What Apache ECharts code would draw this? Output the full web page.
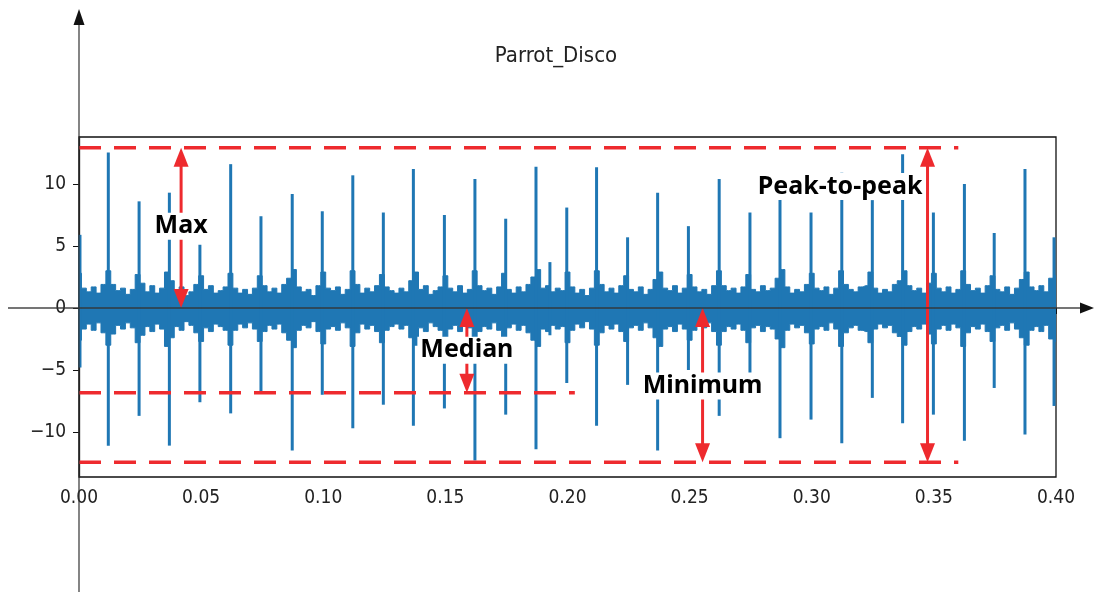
<!DOCTYPE html>
<html><head><meta charset="utf-8">
<script src="https://cdn.jsdelivr.net/npm/echarts@6/dist/echarts.min.js"></script>
<style>html,body{margin:0;padding:0;background:#fff}#c{width:1096px;height:593px}</style>
</head><body><div id="c"></div>
<script>
// ---------- data ----------
const chartTitle = 'Parrot_Disco';
const xTickValues = [0, 0.05, 0.10, 0.15, 0.20, 0.25, 0.30, 0.35, 0.40];
const yTickValues = [-10, -5, 0, 5, 10];

// noise band envelope, one value every 2 ms (upper / lower edge)
const noiseStep = 0.002;
const noiseHi = [
 2.8,1.6,1.3,1.7,1.2,1.9,3.0,1.9,1.4,1.6,
 1.1,1.5,2.7,2.0,1.3,1.8,1.2,1.6,2.9,2.2,
 1.4,1.7,1.0,1.3,1.9,2.6,1.5,1.8,1.2,1.4,
 1.7,2.8,1.6,1.2,1.5,1.1,1.6,2.6,1.8,1.3,
 1.6,1.2,1.9,2.4,3.1,1.7,1.3,1.5,1.0,1.8,
 2.9,1.6,1.4,1.7,1.1,1.5,3.0,1.9,1.2,1.6,
 1.3,1.8,2.7,1.7,1.4,1.2,1.6,1.3,2.2,2.9,
 1.5,1.8,1.1,1.4,1.7,2.6,1.6,1.3,1.8,1.2,
 1.5,3.0,1.8,1.4,1.6,1.1,1.7,2.8,1.5,1.2,
 1.7,1.3,1.9,2.5,3.1,1.6,1.8,1.3,1.6,1.4,
 2.9,1.7,1.2,1.5,1.0,1.6,3.0,1.9,1.3,1.6,
 1.2,1.8,2.6,1.5,1.3,1.7,1.1,1.5,2.3,2.9,
 1.6,1.4,1.8,1.2,1.6,2.7,1.7,1.3,1.5,1.1,
 1.8,3.0,1.8,1.4,1.6,1.2,1.7,2.7,1.5,1.3,
 1.8,1.4,1.6,2.4,3.1,1.7,1.2,1.5,1.3,1.9,
 2.8,1.6,1.4,1.7,1.1,1.6,3.0,1.9,1.5,1.3,
 1.7,1.8,2.9,1.6,1.2,1.5,1.3,1.9,2.2,3.0,
 1.8,1.4,1.6,1.2,2.0,2.8,1.6,1.3,1.7,1.2,
 1.5,3.0,1.9,1.4,1.6,1.2,1.8,2.6,1.5,1.3,
 1.7,1.1,1.6,2.3,2.9,1.7,1.4,1.8,1.3,2.4,
 2.6
];
const noiseLo = [
 -2.6,-1.7,-1.3,-1.8,-1.2,-2.0,-3.0,-2.1,-1.4,-1.7,
 -1.2,-1.6,-2.8,-2.2,-1.5,-1.9,-1.3,-1.7,-3.1,-2.4,
 -1.5,-1.8,-1.1,-1.4,-2.0,-2.7,-1.6,-1.9,-1.3,-1.5,
 -1.8,-3.0,-1.8,-1.3,-1.6,-1.2,-1.7,-2.7,-1.9,-1.4,
 -1.7,-1.3,-2.0,-2.6,-3.2,-1.8,-1.4,-1.6,-1.1,-1.9,
 -2.9,-1.7,-1.5,-1.8,-1.2,-1.6,-3.1,-2.0,-1.3,-1.7,
 -1.4,-1.9,-2.8,-1.8,-1.5,-1.3,-1.7,-1.4,-2.4,-3.0,
 -1.6,-1.9,-1.2,-1.5,-1.8,-2.7,-1.7,-1.4,-1.9,-1.3,
 -1.6,-3.2,-1.9,-1.5,-1.7,-1.2,-1.8,-2.9,-1.6,-1.3,
 -1.8,-1.4,-2.0,-2.6,-3.1,-1.7,-1.9,-1.4,-1.7,-1.5,
 -2.8,-1.8,-1.3,-1.6,-1.1,-1.7,-3.0,-2.0,-1.4,-1.7,
 -1.3,-1.9,-2.7,-1.6,-1.4,-1.8,-1.2,-1.6,-2.4,-3.1,
 -1.7,-1.5,-1.9,-1.3,-1.7,-2.6,-1.8,-1.4,-1.6,-1.2,
 -1.9,-3.0,-1.9,-1.5,-1.7,-1.3,-1.8,-2.8,-1.6,-1.4,
 -1.9,-1.5,-1.7,-2.5,-3.2,-1.8,-1.3,-1.6,-1.4,-2.0,
 -2.9,-1.7,-1.5,-1.8,-1.2,-1.7,-3.1,-2.0,-1.6,-1.4,
 -1.8,-1.9,-2.8,-1.7,-1.3,-1.6,-1.4,-2.0,-2.3,-3.0,
 -1.9,-1.5,-1.7,-1.3,-2.1,-2.9,-1.7,-1.4,-1.8,-1.3,
 -1.6,-3.1,-2.0,-1.5,-1.7,-1.3,-1.9,-2.7,-1.6,-1.4,
 -1.8,-1.2,-1.7,-2.4,-3.0,-1.8,-1.5,-1.9,-1.4,-2.5,
 -2.7
];

// periodic spikes: time (s), positive peak, negative peak
const spikeT  = [0.0004,0.0120,0.0246,0.0370,0.0495,0.0621,0.0745,0.0873,0.0996,0.1121,0.1246,0.1369,0.1496,0.1621,0.1747,0.1871,0.1928,0.1997,0.2119,0.2246,0.2369,0.2495,0.2621,0.2747,0.2870,0.2997,0.3123,0.3248,0.3372,0.3498,0.3625,0.3747,0.3873,0.3992];
const spikeHi = [5.9,12.55,8.6,9.3,5.1,11.6,7.4,9.2,7.8,10.7,7.7,11.2,7.5,10.4,7.2,11.4,3.7,8.1,11.35,5.7,9.3,6.6,10.4,7.7,9.1,7.7,10.9,8.7,12.4,7.7,10.0,6.05,11.2,5.7];
const spikeLo = [-4.8,-11.1,-8.7,-11.1,-7.6,-8.5,-6.8,-11.5,-7.0,-9.7,-7.8,-9.5,-8.1,-12.3,-8.6,-11.4,-2.2,-6.05,-9.5,-6.2,-11.5,-5.0,-8.7,-5.8,-10.5,-9.0,-10.9,-7.25,-9.3,-8.6,-10.7,-6.45,-10.2,-7.9];

// annotation levels (dashed lines)
const levelValues = [12.93, -6.83, -12.45];
const levelEnds   = [0.36, 0.203, 0.36];
// double-headed arrows: x, from, to
const arrowT    = [0.0418, 0.1588, 0.2553, 0.3474];
const arrowFrom = [0, 0, 0, -12.45];
const arrowTo   = [12.93, -6.83, -12.45, 12.93];
// annotation texts
const labelTexts = ['Max', 'Median', 'Minimum', 'Peak-to-peak'];
const labelT     = [0.0418, 0.1588, 0.2553, 0.3116];
const labelY     = [6.6, -3.4, -6.3, 9.8];

// ---------- chart ----------
const BLUE = '#1f77b4', RED = '#ee2a2e';
const AXFONT = "'DejaVu Sans Condensed', 'DejaVu Sans', sans-serif";
const chart = echarts.init(document.getElementById('c'), null, {renderer: 'canvas'});

const hiData = noiseHi.map((v, i) => [i * noiseStep, v]);
const loData = noiseLo.map((v, i) => [i * noiseStep, v]);
const spikeData = spikeT.map((t, i) => [t, spikeHi[i], spikeLo[i]]);
const levelData = levelValues.map((v, i) => [0, v, levelEnds[i]]);
const arrowData = arrowT.map((t, i) => [t, arrowFrom[i], arrowTo[i]]);
const labelData = labelTexts.map((s, i) => [labelT[i], labelY[i], s]);

function renderArrow(params, api) {
  const a = api.coord([api.value(0), api.value(1)]);
  const b = api.coord([api.value(0), api.value(2)]);
  const dx = b[0] - a[0], dy = b[1] - a[1];
  const len = Math.hypot(dx, dy) || 1;
  const ux = dx / len, uy = dy / len;
  const hl = 19, hw = 7.5;
  const head = (tip, vx, vy) => ({
    type: 'polygon',
    shape: {points: [
      [tip[0], tip[1]],
      [tip[0] - vx * hl - vy * hw, tip[1] - vy * hl + vx * hw],
      [tip[0] - vx * hl + vy * hw, tip[1] - vy * hl - vx * hw]
    ]},
    style: {fill: RED}
  });
  return {type: 'group', children: [
    {type: 'line', shape: {x1: a[0] + ux * (hl - 2), y1: a[1] + uy * (hl - 2), x2: b[0] - ux * (hl - 2), y2: b[1] - uy * (hl - 2)},
     style: {stroke: RED, lineWidth: 3}},
    head(b, ux, uy), head(a, -ux, -uy)
  ]};
}

chart.setOption({
  animation: false,
  backgroundColor: '#fff',
  title: {
    text: chartTitle, left: 551, top: 40, textAlign: 'center',
    textStyle: {fontFamily: AXFONT, fontSize: 22, fontWeight: 'normal', color: '#222'}
  },
  grid: {left: 79, right: 40, top: 137, bottom: 116, show: true, borderColor: '#111', borderWidth: 1.3, backgroundColor: '#fff'},
  xAxis: {
    type: 'value', min: 0, max: 0.4, interval: 0.05,
    axisLine: {show: true, lineStyle: {color: '#111', width: 1.3}},
    axisTick: {show: true, length: 6, lineStyle: {color: '#111'}},
    splitLine: {show: false},
    axisLabel: {fontFamily: AXFONT, fontSize: 19, color: '#222', margin: 12,
      customValues: xTickValues, formatter: v => v.toFixed(2)}
  },
  yAxis: {
    type: 'value', min: -13.63, max: 13.79,
    axisLine: {show: true, lineStyle: {color: '#111', width: 1.3}},
    axisTick: {show: true, length: 6, lineStyle: {color: '#111'}, customValues: yTickValues},
    splitLine: {show: false},
    axisLabel: {fontFamily: AXFONT, fontSize: 19, color: '#222', margin: 13,
      customValues: yTickValues, formatter: v => (v < 0 ? '\u2212' + Math.abs(v) : String(v))}
  },
  series: [
    {type: 'line', data: hiData, step: 'middle', symbol: 'none', z: 2,
     lineStyle: {color: BLUE, width: 1}, areaStyle: {color: BLUE, opacity: 1}, silent: true},
    {type: 'line', data: loData, step: 'middle', symbol: 'none', z: 2,
     lineStyle: {color: BLUE, width: 1}, areaStyle: {color: BLUE, opacity: 1}, silent: true},
    {type: 'custom', data: spikeData, z: 3, silent: true, encode: {x: 0, y: [1, 2]},
     renderItem: (params, api) => {
       const p1 = api.coord([api.value(0), api.value(1)]);
       const p2 = api.coord([api.value(0), api.value(2)]);
       return {type: 'line', shape: {x1: p1[0], y1: p1[1], x2: p2[0], y2: p2[1]},
               style: {stroke: BLUE, lineWidth: 3}};
     }},
    {type: 'custom', data: levelData, z: 4, silent: true, encode: {x: [0, 2], y: 1},
     renderItem: (params, api) => {
       const p1 = api.coord([api.value(0), api.value(1)]);
       const p2 = api.coord([api.value(2), api.value(1)]);
       return {type: 'line', shape: {x1: p1[0], y1: p1[1], x2: p2[0], y2: p2[1]},
               style: {stroke: RED, lineWidth: 3.5, lineDash: [22, 13]}};
     }},
    {type: 'custom', data: arrowData, z: 5, silent: true, encode: {x: 0, y: [1, 2]}, renderItem: renderArrow},
    {type: 'custom', data: labelData, z: 6, silent: true, encode: {x: 0, y: 1},
     renderItem: (params, api) => {
       const p = api.coord([api.value(0), api.value(1)]);
       return {type: 'text', x: p[0], y: p[1],
         style: {text: labelTexts[params.dataIndex], fill: '#000', align: 'center', verticalAlign: 'middle',
           fontFamily: "'Noto Sans', 'Open Sans', sans-serif", fontWeight: 'bold', fontSize: 25,
           backgroundColor: '#fff', padding: [1, 3]}};
     }}
  ]
});

const x0 = chart.convertToPixel({xAxisIndex: 0}, 0);
const y0 = chart.convertToPixel({yAxisIndex: 0}, 0);
chart.setOption({graphic: [
  {type: 'line', z: 100, shape: {x1: x0, y1: 592, x2: x0, y2: 20}, style: {stroke: '#333', lineWidth: 1.2}},
  {type: 'polygon', z: 100, shape: {points: [[x0 - 5.5, 25], [x0, 9], [x0 + 5.5, 25]]}, style: {fill: '#111'}},
  {type: 'line', z: 100, shape: {x1: 8, y1: y0, x2: 1084, y2: y0}, style: {stroke: '#333', lineWidth: 1.4, opacity: 0.9}},
  {type: 'polygon', z: 100, shape: {points: [[1080, y0 - 5.5], [1094, y0], [1080, y0 + 5.5]]}, style: {fill: '#111'}}
]});
</script>
</body></html>
